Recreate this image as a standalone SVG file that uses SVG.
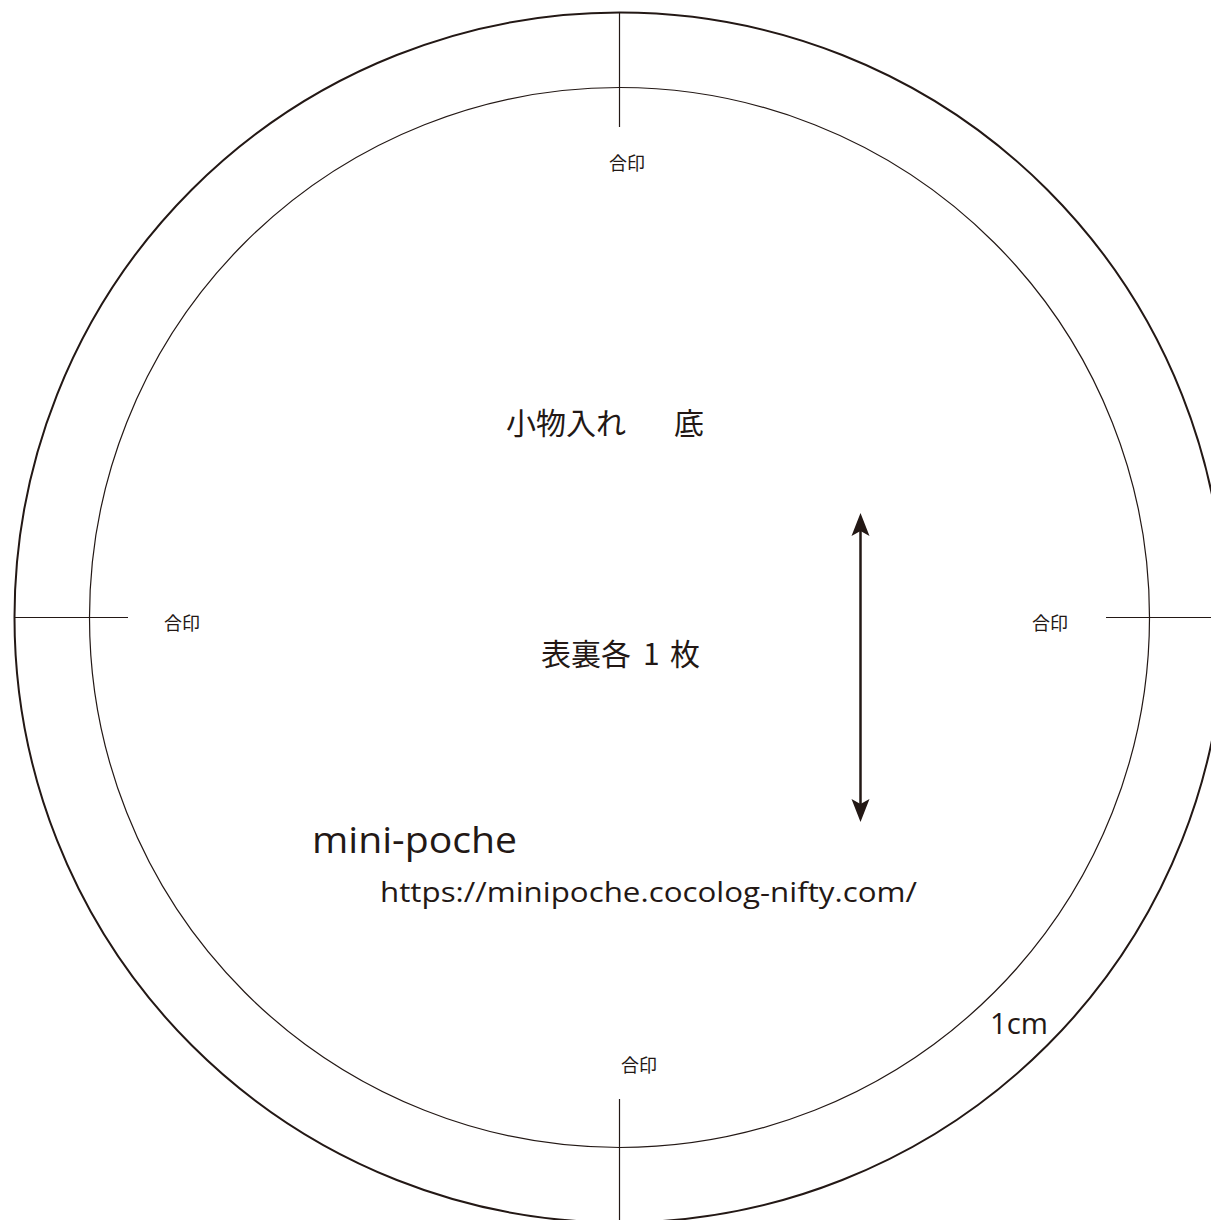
<svg xmlns="http://www.w3.org/2000/svg" width="1211" height="1220" viewBox="0 0 1211 1220">
<style>
.outer{fill:none;stroke:#231815;stroke-width:2}
.inner{fill:none;stroke:#231815;stroke-width:1.2}
.mark{stroke:#231815;stroke-width:1.2;fill:none}
.jp{font-family:"Noto Sans CJK JP","Noto Sans",sans-serif;fill:#231815}
.lat{font-family:"Open Sans","Noto Sans",sans-serif;fill:#231815}
.small{font-size:18px}
</style>
<defs>
<marker id="ah" markerWidth="24" markerHeight="20" viewBox="0 0 24 20" refX="11" refY="10" orient="auto-start-reverse" markerUnits="userSpaceOnUse">
<path d="M23 10 L0 1 L5 10 L0 19 Z" fill="#231815"/>
</marker>
</defs>
<rect width="1211" height="1220" fill="#fff"/>
<g id="pattern">
<circle class="outer" cx="619.5" cy="617.5" r="605"/>
<circle class="inner" cx="619.5" cy="617.5" r="530"/>
</g>
<g id="marks">
<line class="mark" x1="619.5" y1="12" x2="619.5" y2="127"/>
<line class="mark" x1="14" y1="617.5" x2="128" y2="617.5"/>
<line class="mark" x1="1106" y1="617.5" x2="1211" y2="617.5"/>
<line class="mark" x1="619.5" y1="1099" x2="619.5" y2="1220"/>
</g>
<g id="labels">
<text class="jp small" x="609" y="170">合印</text>
<text class="jp small" x="164" y="630">合印</text>
<text class="jp small" x="1032" y="630">合印</text>
<text class="jp small" x="621" y="1072">合印</text>
<text class="jp" font-size="30" x="506" y="434">小物入れ</text>
<text class="jp" font-size="30" x="674" y="434">底</text>
<text class="jp" font-size="30" y="665"><tspan x="541">表裏各</tspan><tspan x="643">1</tspan><tspan x="670">枚</tspan></text>
<text class="lat" font-size="36" x="312" y="853" textLength="205" lengthAdjust="spacingAndGlyphs">mini-poche</text>
<text class="lat" font-size="28" x="380" y="902" textLength="537" lengthAdjust="spacingAndGlyphs">https://minipoche.cocolog-nifty.com/</text>
<text class="lat" font-size="30" x="990" y="1034" textLength="58" lengthAdjust="spacingAndGlyphs">1cm</text>
</g>
<g id="connectors">
<line x1="860.5" y1="525" x2="860.5" y2="810" stroke="#231815" stroke-width="2.5" marker-start="url(#ah)" marker-end="url(#ah)"/>
</g>
</svg>
